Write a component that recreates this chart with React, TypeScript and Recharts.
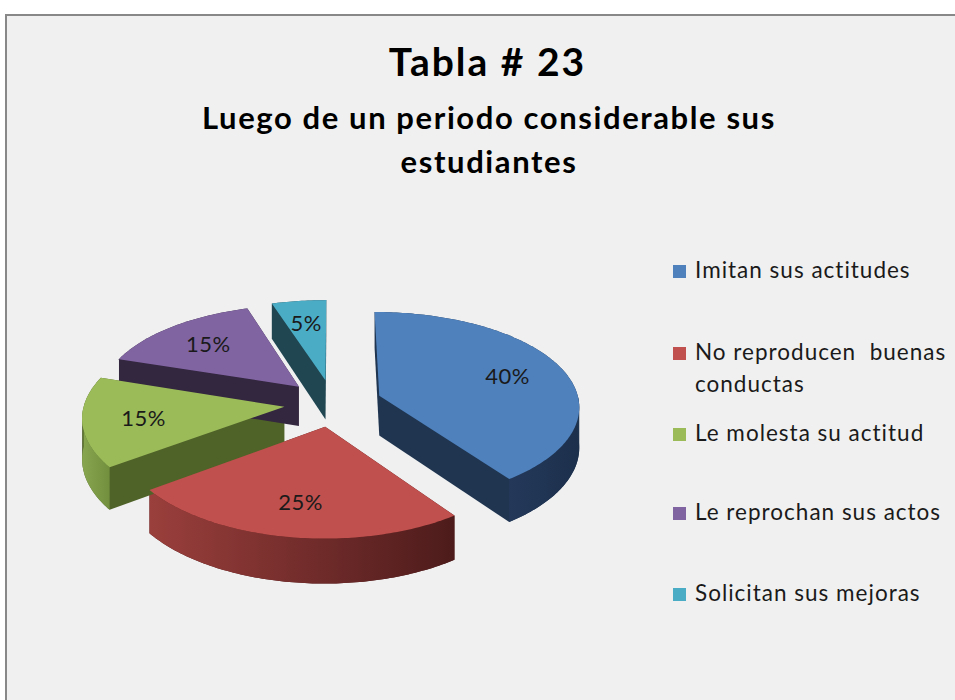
import React from 'react';
import { PieChart, Pie, Legend } from 'recharts';

// chart values
const categories = [
  'Imitan sus actitudes',
  'No reproducen buenas conductas',
  'Le molesta su actitud',
  'Le reprochan sus actos',
  'Solicitan sus mejoras',
];
const legendLines = [
  ['Imitan sus actitudes'],
  ['No reproducen  buenas', 'conductas'],
  ['Le molesta su actitud'],
  ['Le reprochan sus actos'],
  ['Solicitan sus mejoras'],
];
const percentages = [40, 25, 15, 15, 5];

const topColors = ['#4f81bd', '#c0504d', '#9bbb59', '#8064a2', '#4bacc6'];
const sideColors = ['#1f3550', '#4f1c1c', '#4f6228', '#33263f', '#1f4651'];
const wallColors = [
  ['#24395a', '#1c304c'],
  ['#9a3f3c', '#4d1b1b'],
  ['#88a64f', '#728f3e'],
  ['#3a2b48', '#2e2238'],
  ['#24505d', '#1b3f49'],
];

const pieData = categories.map((name, i) => ({ name, value: percentages[i], fill: topColors[i] }));

// fake 3d look
const TILT = 0.48;
const BULGE = 10.6;
const PERSP = 0.1;
const DEPTH = 40;
const EXPLODE = 49;
const RAD = Math.PI / 180;
const FONT = 'Lato, "Open Sans", sans-serif';

type Pt = { x: number; y: number; s: number; th: number | null };

const project = (cx: number, cy: number, R: number, X: number, Z: number) => {
  const s = 1 - (PERSP * Z) / R;
  return { x: cx + X * s, y: cy - TILT * Z + BULGE * (Z / R) ** 2, s };
};

const outline = (p: any): Pt[] => {
  const { cx, cy, outerRadius: R, startAngle, endAngle } = p;
  const mid = (startAngle + endAngle) / 2;
  const ex = EXPLODE * Math.cos(mid * RAD);
  const ez = EXPLODE * Math.sin(mid * RAD);
  const steps = Math.max(2, Math.ceil(Math.abs(endAngle - startAngle)));
  const pts: Pt[] = [{ ...project(cx, cy, R, ex, ez), th: null }];
  for (let k = 0; k <= steps; k++) {
    const th = startAngle + ((endAngle - startAngle) * k) / steps;
    pts.push({ ...project(cx, cy, R, ex + R * Math.cos(th * RAD), ez + R * Math.sin(th * RAD)), th });
  }
  return pts;
};

const toPath = (pts: { x: number; y: number }[]) =>
  pts.map((p, k) => `${k ? 'L' : 'M'}${p.x.toFixed(2)},${p.y.toFixed(2)}`).join('') + 'Z';

const down = (p: Pt) => ({ x: p.x, y: p.y + DEPTH * p.s });

const hull = (pts: { x: number; y: number }[]) => {
  const s = [...pts].sort((a, b) => a.x - b.x || a.y - b.y);
  const cross = (o: any, a: any, b: any) => (a.x - o.x) * (b.y - o.y) - (a.y - o.y) * (b.x - o.x);
  const lower: any[] = [];
  for (const p of s) {
    while (lower.length >= 2 && cross(lower[lower.length - 2], lower[lower.length - 1], p) <= 0) lower.pop();
    lower.push(p);
  }
  const upper: any[] = [];
  for (let k = s.length - 1; k >= 0; k--) {
    const p = s[k];
    while (upper.length >= 2 && cross(upper[upper.length - 2], upper[upper.length - 1], p) <= 0) upper.pop();
    upper.push(p);
  }
  return lower.slice(0, -1).concat(upper.slice(0, -1));
};

const idx = (p: any) => categories.indexOf(p.payload?.name ?? p.name);

const SideShape = (props: any) => {
  const i = idx(props);
  const pts = outline(props);
  const body = hull([...pts, ...pts.map(down)]);
  const front = pts.filter((p) => p.th !== null && Math.sin((p.th as number) * RAD) <= 0.0001);
  return (
    <g>
      <defs>
        <linearGradient id={`wall-${i}`} x1="0" y1="0" x2="1" y2="0">
          <stop offset="0%" stopColor={wallColors[i][0]} />
          <stop offset="100%" stopColor={wallColors[i][1]} />
        </linearGradient>
      </defs>
      <path d={toPath(body)} fill={sideColors[i]} />
      {front.length >= 2 && (
        <path d={toPath([...front, ...front.map(down).reverse()])} fill={`url(#wall-${i})`} />
      )}
    </g>
  );
};

const TopShape = (props: any) => {
  const i = idx(props);
  return <path d={toPath(outline(props))} fill={topColors[i]} />;
};

const renderLabel = (props: any) => {
  const { cx, cy, outerRadius: R, startAngle, endAngle, percent } = props;
  const mid = (startAngle + endAngle) / 2;
  const r = EXPLODE + R * 0.7;
  const p = project(cx, cy, R, r * Math.cos(mid * RAD), r * Math.sin(mid * RAD));
  return (
    <text
      x={p.x}
      y={p.y}
      textAnchor="middle"
      dominantBaseline="central"
      fontFamily={FONT}
      fontSize={22}
      letterSpacing={0.5}
      fill="#1a1a1a"
    >
      {`${Math.round(percent * 100)}%`}
    </text>
  );
};

const legendBaselines = [278, 360, 441, 520, 601];
const LEGEND_LEFT = 665;
const LEGEND_TOP = 250;

const renderLegend = () => (
  <svg width={290} height={370}>
    {legendLines.map((lines, i) => {
      const base = legendBaselines[i] - LEGEND_TOP;
      return (
        <g key={categories[i]}>
          <rect x={8} y={base - 13} width={13} height={13} fill={topColors[i]} />
          {lines.map((t, j) => (
            <text
              key={t}
              x={30}
              y={base + j * 32}
              fontFamily={FONT}
              fontSize={22.5}
              letterSpacing={1}
              fill="#1a1a1a"
              style={{ whiteSpace: 'pre' }}
            >
              {t}
            </text>
          ))}
        </g>
      );
    })}
  </svg>
);

export default function App() {
  return (
    <div style={{ position: 'absolute', left: 0, top: 0, width: 955, height: 700, background: '#ffffff', overflow: 'hidden' }}>
      <div
        style={{
          position: 'absolute',
          left: 5,
          top: 14,
          width: 970,
          height: 720,
          border: '2px solid #888888',
          background: '#f0f0f0',
          boxSizing: 'border-box',
        }}
      />
      <svg width={955} height={200} style={{ position: 'absolute', left: 0, top: 0 }}>
        <text x={487.5} y={76} textAnchor="middle" fontFamily={FONT} fontWeight={700} fontSize={39} letterSpacing={2} fill="#000">
          Tabla # 23
        </text>
        <text x={489} y={129} textAnchor="middle" fontFamily={FONT} fontWeight={700} fontSize={31} letterSpacing={1.6} fill="#000">
          Luego de un periodo considerable sus
        </text>
        <text x={489} y={173} textAnchor="middle" fontFamily={FONT} fontWeight={700} fontSize={31} letterSpacing={1.6} fill="#000">
          estudiantes
        </text>
      </svg>
      <div style={{ position: 'absolute', left: 0, top: 0 }}>
        <PieChart width={955} height={700} margin={{ top: 0, right: 0, bottom: 0, left: 0 }}>
          <Pie
            data={pieData}
            dataKey="value"
            nameKey="name"
            cx={333}
            cy={403}
            outerRadius={200}
            startAngle={90}
            endAngle={-270}
            stroke="none"
            isAnimationActive={false}
            shape={SideShape}
          />
          <Pie
            data={pieData}
            dataKey="value"
            nameKey="name"
            cx={333}
            cy={403}
            outerRadius={200}
            startAngle={90}
            endAngle={-270}
            stroke="none"
            isAnimationActive={false}
            shape={TopShape}
            label={renderLabel}
            labelLine={false}
          />
          <Legend
            layout="vertical"
            align="right"
            verticalAlign="top"
            content={renderLegend}
            wrapperStyle={{ left: LEGEND_LEFT, top: LEGEND_TOP, width: 290, height: 370 }}
          />
        </PieChart>
      </div>
    </div>
  );
}
